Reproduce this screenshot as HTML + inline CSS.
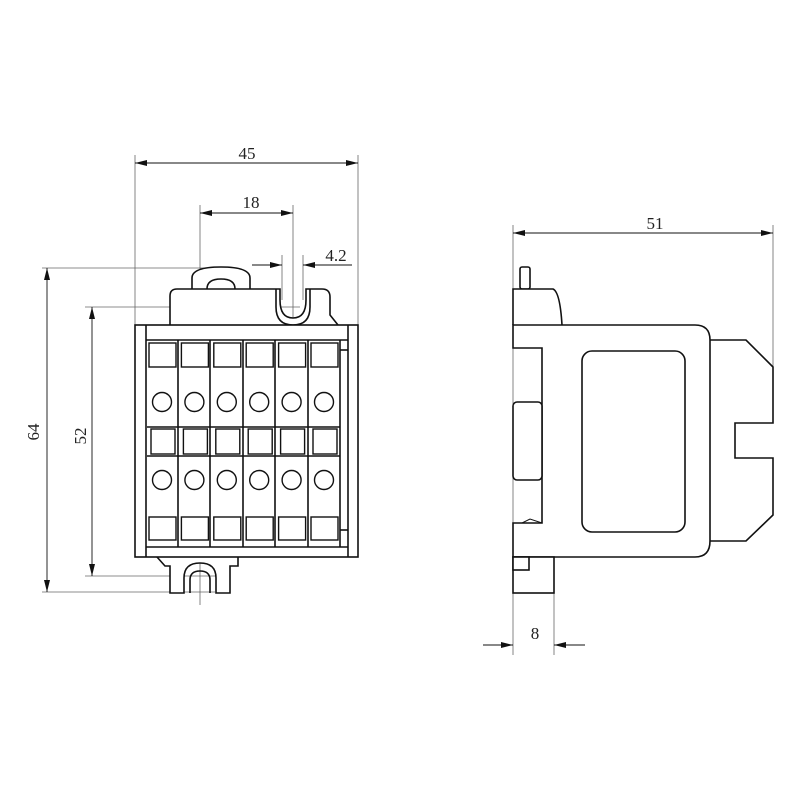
<!DOCTYPE html>
<html><head><style>html,body{margin:0;padding:0;background:#fff}svg{display:block}</style></head><body>
<svg width="800" height="800" viewBox="0 0 800 800" xmlns="http://www.w3.org/2000/svg">
<defs>
<marker id="a" viewBox="0 0 12 6" refX="12" refY="3" markerWidth="12" markerHeight="6" markerUnits="userSpaceOnUse" orient="auto-start-reverse"><path d="M0,0 L12,3 L0,6z" fill="#111"/></marker>
</defs>
<g stroke="#666" stroke-width="0.8" fill="none">
<line x1="135" y1="155" x2="135" y2="325"/>
<line x1="358" y1="155" x2="358" y2="325"/>
<line x1="200" y1="205" x2="200" y2="605"/>
<line x1="293" y1="205" x2="293" y2="330"/>
<line x1="282" y1="255" x2="282" y2="300"/>
<line x1="303" y1="255" x2="303" y2="300"/>
<line x1="42" y1="268" x2="215" y2="268"/>
<line x1="85" y1="307" x2="300" y2="307"/>
<line x1="85" y1="576" x2="220" y2="576"/>
<line x1="42" y1="592" x2="215" y2="592"/>
<line x1="513" y1="225" x2="513" y2="655"/>
<line x1="773" y1="225" x2="773" y2="367"/>
<line x1="554" y1="593" x2="554" y2="655"/>
</g>
<g stroke="#111" stroke-width="0.9" fill="none">
<line x1="135" y1="163" x2="358" y2="163" marker-start="url(#a)" marker-end="url(#a)"/>
<line x1="200" y1="213" x2="293" y2="213" marker-start="url(#a)" marker-end="url(#a)"/>
<line x1="252" y1="265" x2="282" y2="265" marker-end="url(#a)"/>
<line x1="303" y1="265" x2="352" y2="265" marker-start="url(#a)"/>
<line x1="47" y1="268" x2="47" y2="592" marker-start="url(#a)" marker-end="url(#a)"/>
<line x1="92" y1="307" x2="92" y2="576" marker-start="url(#a)" marker-end="url(#a)"/>
<line x1="513" y1="233" x2="773" y2="233" marker-start="url(#a)" marker-end="url(#a)"/>
<line x1="483" y1="645" x2="513" y2="645" marker-end="url(#a)"/>
<line x1="554" y1="645" x2="585" y2="645" marker-start="url(#a)"/>
</g>
<g font-family="Liberation Serif, serif" font-size="17" fill="#222" text-anchor="middle">
<text x="247" y="159">45</text>
<text x="251" y="208">18</text>
<text x="336" y="261">4.2</text>
<text x="655" y="229">51</text>
<text x="535" y="639">8</text>
<text transform="translate(39,432) rotate(-90)">64</text>
<text transform="translate(86,436) rotate(-90)">52</text>
</g>
<g stroke="#111" stroke-width="1.6" fill="#fff">
<path d="M192,289 L192,278 Q192,267 221,267 Q250,267 250,278 L250,289"/>
<path d="M207,289 Q207,279 221,279 Q235,279 235,289"/>
<path d="M170,325 L170,296 Q170,289 177,289 L280,289 L280,300 Q280,318 293,318 Q306,318 306,300 L306,289 L322,289 Q330,289 330,297 L330,315 L338,325"/>
<path d="M276,289 L276,307 Q276,325 293,325 Q310,325 310,307 L310,289" fill="none"/>
<path d="M157,557 L165,566 L170,566 L170,593 L184,593 L184,578 Q184,563 200,563 Q216,563 216,578 L216,593 L230,593 L230,566 L238,566 L238,557"/>
<path d="M190,593 L190,580 Q190,571 200,571 Q210,571 210,580 L210,593" fill="none"/>
<rect x="135" y="325" width="223" height="232"/>
<line x1="146" y1="325" x2="146" y2="557"/>
<line x1="348" y1="325" x2="348" y2="557"/>
<line x1="146" y1="340" x2="348" y2="340"/>
<line x1="146" y1="547" x2="348" y2="547"/>
<line x1="340" y1="340" x2="340" y2="547"/>
<line x1="340" y1="350" x2="348" y2="350" fill="none"/>
<line x1="340" y1="530" x2="348" y2="530" fill="none"/>
<line x1="147" y1="427" x2="340" y2="427"/>
<line x1="147" y1="456" x2="340" y2="456"/>
</g>
<g stroke="#111" stroke-width="1.4" fill="#fff">
<g id="c">
<rect x="149" y="343" width="27" height="24" fill="none"/>
<circle cx="162" cy="402" r="9.5"/>
<circle cx="162" cy="480" r="9.5"/>
<rect x="151" y="429" width="24" height="25" fill="none"/>
<rect x="149" y="517" width="27" height="23" fill="none"/>
</g>
<use href="#c" x="32.4"/><use href="#c" x="64.8"/><use href="#c" x="97.2"/><use href="#c" x="129.6"/><use href="#c" x="162"/>
<g stroke-width="1.6">
<line x1="178" y1="340" x2="178" y2="547"/><line x1="210" y1="340" x2="210" y2="547"/><line x1="243" y1="340" x2="243" y2="547"/><line x1="275" y1="340" x2="275" y2="547"/><line x1="308" y1="340" x2="308" y2="547"/>
</g>
</g>
<g stroke="#111" stroke-width="1.6" fill="#fff">
<rect x="520" y="267" width="10" height="22" rx="2"/>
<path d="M513,325 L513,289 L553,289 Q560,292 562,325"/>
<path d="M710,340 L746,340 L773,367 L773,423 L735,423 L735,458 L773,458 L773,515 L746,541 L710,541"/>
<path d="M513,325 L695,325 Q710,325 710,340 L710,541 Q710,557 695,557 L513,557 L513,523 L542,523 L542,348 L513,348 Z"/>
<rect x="513" y="402" width="29" height="78" rx="4"/>
<rect x="582" y="351" width="103" height="181" rx="10"/>
<rect x="513" y="557" width="41" height="36"/>
<rect x="513" y="557" width="16" height="13"/>
<path d="M522,523 L530,519 L542,523" fill="none" stroke-width="1"/>
</g>
</svg>
</body></html>
